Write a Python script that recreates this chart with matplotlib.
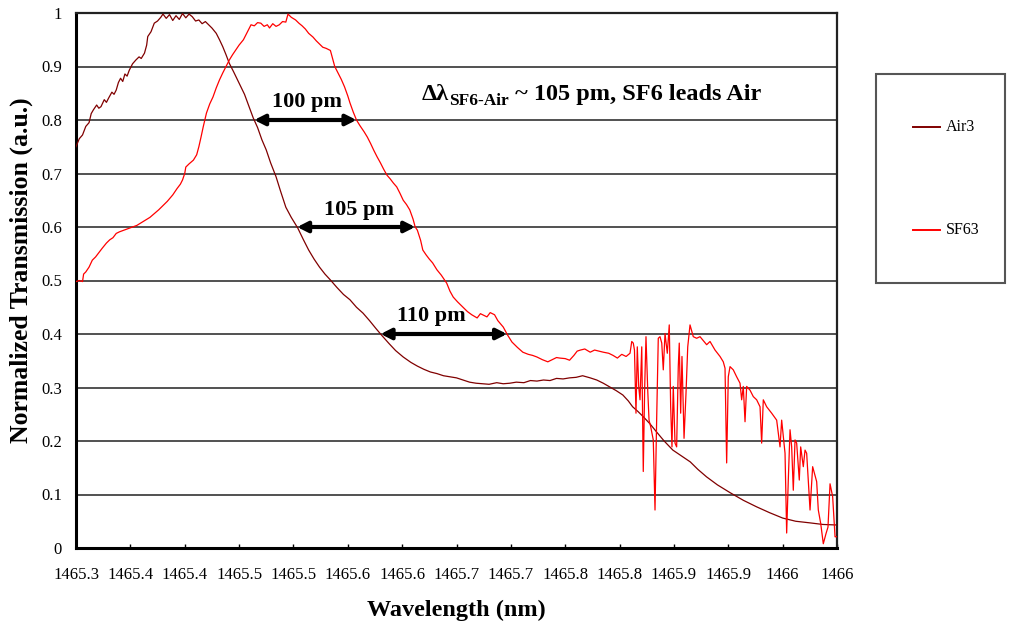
import numpy as np
import matplotlib
matplotlib.use("Agg")
import matplotlib.pyplot as plt
from matplotlib.patches import Rectangle
from matplotlib.lines import Line2D

# ---------------- data ----------------
air3_wl = [
    1465.300, 1465.303, 1465.306, 1465.309, 1465.312, 1465.314, 1465.316, 1465.319,
    1465.321, 1465.323, 1465.326, 1465.328, 1465.330, 1465.333, 1465.335, 1465.337,
    1465.339, 1465.341, 1465.343, 1465.345, 1465.347, 1465.349, 1465.352, 1465.355,
    1465.358, 1465.360, 1465.363, 1465.365, 1465.366, 1465.369, 1465.372, 1465.375,
    1465.378, 1465.380, 1465.383, 1465.386, 1465.389, 1465.392, 1465.395, 1465.398,
    1465.401, 1465.404, 1465.407, 1465.410, 1465.413, 1465.416, 1465.419, 1465.422,
    1465.425, 1465.429, 1465.432, 1465.435, 1465.438, 1465.441, 1465.445, 1465.450,
    1465.455, 1465.459, 1465.463, 1465.467, 1465.471, 1465.475, 1465.479, 1465.484,
    1465.488, 1465.493, 1465.498, 1465.504, 1465.509, 1465.514, 1465.519, 1465.524,
    1465.529, 1465.534, 1465.540, 1465.546, 1465.552, 1465.558, 1465.564, 1465.570,
    1465.576, 1465.581, 1465.588, 1465.594, 1465.601, 1465.608, 1465.614, 1465.620,
    1465.626, 1465.632, 1465.638, 1465.644, 1465.650, 1465.656, 1465.662, 1465.668,
    1465.674, 1465.680, 1465.687, 1465.693, 1465.699, 1465.705, 1465.712, 1465.718,
    1465.724, 1465.730, 1465.736, 1465.742, 1465.748, 1465.754, 1465.760, 1465.766,
    1465.773, 1465.779, 1465.785, 1465.791, 1465.797, 1465.803, 1465.808, 1465.812,
    1465.817, 1465.822, 1465.828, 1465.834, 1465.841, 1465.849, 1465.857, 1465.865,
    1465.872, 1465.880, 1465.890, 1465.902, 1465.914, 1465.926, 1465.938, 1465.950,
    1465.962, 1465.975, 1465.987, 1466.000,
]
air3_tr = [
    0.750, 0.765, 0.772, 0.788, 0.795, 0.812, 0.819, 0.828,
    0.822, 0.825, 0.838, 0.833, 0.841, 0.852, 0.848, 0.856,
    0.870, 0.878, 0.872, 0.886, 0.882, 0.893, 0.905, 0.912,
    0.918, 0.915, 0.925, 0.940, 0.956, 0.965, 0.981, 0.985,
    0.992, 0.998, 0.990, 0.997, 0.986, 0.995, 0.988, 0.999,
    0.991, 0.998, 0.993, 0.985, 0.987, 0.980, 0.984, 0.978,
    0.972, 0.962, 0.950, 0.937, 0.922, 0.906, 0.890, 0.869,
    0.848, 0.826, 0.804, 0.786, 0.763, 0.744, 0.720, 0.694,
    0.668, 0.637, 0.618, 0.598, 0.577, 0.557, 0.540, 0.525,
    0.512, 0.501, 0.487, 0.474, 0.464, 0.450, 0.439, 0.425,
    0.410, 0.398, 0.382, 0.369, 0.357, 0.347, 0.340, 0.334,
    0.329, 0.326, 0.322, 0.320, 0.318, 0.314, 0.310, 0.308,
    0.307, 0.306, 0.309, 0.307, 0.308, 0.310, 0.309, 0.313,
    0.312, 0.314, 0.313, 0.317, 0.316, 0.318, 0.319, 0.322,
    0.318, 0.314, 0.308, 0.301, 0.294, 0.286, 0.275, 0.264,
    0.255, 0.245, 0.232, 0.217, 0.200, 0.183, 0.172, 0.161,
    0.147, 0.133, 0.118, 0.103, 0.089, 0.077, 0.066, 0.056,
    0.050, 0.047, 0.044, 0.043,
]

sf63_wl = [
    1465.300, 1465.303, 1465.306, 1465.307, 1465.309, 1465.312, 1465.315, 1465.318,
    1465.321, 1465.324, 1465.328, 1465.331, 1465.334, 1465.337, 1465.340, 1465.344,
    1465.348, 1465.352, 1465.356, 1465.360, 1465.364, 1465.368, 1465.372, 1465.376,
    1465.380, 1465.384, 1465.389, 1465.393, 1465.396, 1465.398, 1465.400, 1465.401,
    1465.404, 1465.408, 1465.411, 1465.413, 1465.415, 1465.417, 1465.420, 1465.423,
    1465.426, 1465.429, 1465.432, 1465.435, 1465.438, 1465.441, 1465.444, 1465.447,
    1465.450, 1465.454, 1465.457, 1465.461, 1465.464, 1465.467, 1465.470, 1465.473,
    1465.476, 1465.478, 1465.481, 1465.484, 1465.487, 1465.490, 1465.493, 1465.495,
    1465.498, 1465.502, 1465.505, 1465.508, 1465.511, 1465.514, 1465.518, 1465.521,
    1465.524, 1465.527, 1465.530, 1465.534, 1465.536, 1465.538, 1465.541, 1465.544,
    1465.547, 1465.550, 1465.552, 1465.555, 1465.558, 1465.561, 1465.565, 1465.568,
    1465.571, 1465.574, 1465.577, 1465.580, 1465.583, 1465.586, 1465.589, 1465.592,
    1465.595, 1465.598, 1465.601, 1465.604, 1465.607, 1465.610, 1465.612, 1465.614,
    1465.617, 1465.619, 1465.622, 1465.625, 1465.628, 1465.632, 1465.636, 1465.641,
    1465.644, 1465.647, 1465.651, 1465.656, 1465.660, 1465.664, 1465.669, 1465.672,
    1465.674, 1465.678, 1465.681, 1465.685, 1465.688, 1465.693, 1465.697, 1465.701,
    1465.706, 1465.711, 1465.716, 1465.720, 1465.724, 1465.729, 1465.734, 1465.738,
    1465.742, 1465.745, 1465.750, 1465.754, 1465.758, 1465.761, 1465.764, 1465.768,
    1465.773, 1465.777, 1465.781, 1465.785, 1465.790, 1465.794, 1465.798, 1465.802,
    1465.806,
    # absorption band
    1465.8096, 1465.8112, 1465.8126, 1465.8137, 1465.8151, 1465.8163, 1465.8176, 1465.8188,
    1465.8204, 1465.8218, 1465.8231, 1465.8243, 1465.8259, 1465.8271, 1465.8286, 1465.8298,
    1465.8310, 1465.8326, 1465.8341, 1465.8356, 1465.8372, 1465.8388, 1465.8402, 1465.8418,
    1465.8439, 1465.8457, 1465.8470, 1465.8482, 1465.8494, 1465.8510, 1465.8525, 1465.8540,
    1465.8549, 1465.8562, 1465.8574, 1465.8593, 1465.8611, 1465.8627, 1465.8648,
    # long-wavelength tail
    1465.8678, 1465.8709, 1465.8740, 1465.8801, 1465.8832,
    1465.8878, 1465.8924, 1465.8954, 1465.8970, 1465.8985, 1465.9000, 1465.9016, 1465.9046,
    1465.9077, 1465.9108, 1465.9123, 1465.9138, 1465.9154, 1465.9169, 1465.9200, 1465.9230,
    1465.9261, 1465.9292, 1465.9307, 1465.9322, 1465.9353, 1465.9399, 1465.9445, 1465.9476,
    1465.9491, 1465.9522, 1465.9537, 1465.9552, 1465.9568, 1465.9583, 1465.9598, 1465.9614,
    1465.9629, 1465.9653, 1465.9666, 1465.9690, 1465.9706, 1465.9721, 1465.9752, 1465.9776,
    1465.9813, 1465.9828, 1465.9850, 1465.9874, 1465.9899, 1465.9917, 1465.9936, 1465.9960,
    1465.9982, 1465.9997,
]
sf63_tr = [
    0.498, 0.500, 0.498, 0.512, 0.516, 0.525, 0.538, 0.544,
    0.552, 0.560, 0.570, 0.576, 0.580, 0.588, 0.591, 0.594,
    0.597, 0.600, 0.603, 0.608, 0.613, 0.618, 0.625, 0.632,
    0.640, 0.648, 0.660, 0.672, 0.680, 0.688, 0.700, 0.712,
    0.718, 0.725, 0.735, 0.750, 0.768, 0.787, 0.813, 0.830,
    0.843, 0.860, 0.875, 0.888, 0.900, 0.912, 0.922, 0.931,
    0.940, 0.950, 0.962, 0.978, 0.976, 0.982, 0.981, 0.975,
    0.978, 0.972, 0.980, 0.975, 0.978, 0.984, 0.983, 0.998,
    0.992, 0.987, 0.981, 0.976, 0.970, 0.962, 0.955, 0.948,
    0.942, 0.936, 0.934, 0.930, 0.915, 0.900, 0.888, 0.876,
    0.862, 0.845, 0.832, 0.815, 0.800, 0.790, 0.778, 0.768,
    0.756, 0.743, 0.731, 0.720, 0.708, 0.697, 0.690, 0.682,
    0.675, 0.663, 0.650, 0.642, 0.632, 0.615, 0.600, 0.594,
    0.575, 0.557, 0.548, 0.540, 0.533, 0.520, 0.510, 0.495,
    0.480, 0.469, 0.460, 0.450, 0.442, 0.436, 0.430, 0.438,
    0.436, 0.432, 0.440, 0.436, 0.425, 0.413, 0.398, 0.385,
    0.375, 0.366, 0.362, 0.360, 0.357, 0.352, 0.348, 0.352,
    0.356, 0.355, 0.354, 0.351, 0.360, 0.368, 0.370, 0.372,
    0.366, 0.370, 0.368, 0.366, 0.364, 0.360, 0.355, 0.362,
    0.358,
    # absorption band
    0.364, 0.386, 0.383, 0.370, 0.252, 0.376, 0.302, 0.277,
    0.376, 0.143, 0.300, 0.395, 0.295, 0.239, 0.227, 0.214,
    0.202, 0.071, 0.239, 0.392, 0.395, 0.383, 0.333, 0.401,
    0.364, 0.417, 0.264, 0.189, 0.302, 0.196, 0.189, 0.339,
    0.383, 0.252, 0.358, 0.205, 0.289, 0.376, 0.417,
    # long-wavelength tail
    0.395, 0.392, 0.395, 0.380, 0.386,
    0.370, 0.358, 0.348, 0.336, 0.159, 0.320, 0.339, 0.333,
    0.320, 0.308, 0.277, 0.302, 0.236, 0.302, 0.295, 0.283,
    0.277, 0.264, 0.196, 0.277, 0.264, 0.252, 0.239, 0.189,
    0.239, 0.177, 0.028, 0.127, 0.221, 0.189, 0.108, 0.202,
    0.196, 0.127, 0.189, 0.152, 0.183, 0.177, 0.071, 0.152,
    0.124, 0.071, 0.046, 0.008, 0.027, 0.039, 0.120, 0.096,
    0.021, 0.021,
]

series_names = ["Air3", "SF63"]
series_colors = ["#800000", "#ff0000"]

x_tick_values = [1465.30, 1465.35, 1465.40, 1465.45, 1465.50, 1465.55, 1465.60, 1465.65,
                 1465.70, 1465.75, 1465.80, 1465.85, 1465.90, 1465.95, 1466.00]
x_tick_labels = ["1465.3", "1465.4", "1465.4", "1465.5", "1465.5", "1465.6", "1465.6",
                 "1465.7", "1465.7", "1465.8", "1465.8", "1465.9", "1465.9", "1466", "1466"]
y_tick_values = [0.0, 0.1, 0.2, 0.3, 0.4, 0.5, 0.6, 0.7, 0.8, 0.9, 1.0]
y_tick_labels = ["0", "0.1", "0.2", "0.3", "0.4", "0.5", "0.6", "0.7", "0.8", "0.9", "1"]

shift_levels = [0.8, 0.6, 0.4]
shift_labels = ["100 pm", "105 pm", "110 pm"]
shift_label_dx = [1, 2, -9]  # points


def falling_crossing(wl, tr, level):
    """Wavelength where a curve first falls through `level` after its peak."""
    wl = np.asarray(wl)
    tr = np.asarray(tr)
    i0 = int(np.argmax(tr))
    for i in range(i0 + 1, len(tr)):
        if tr[i] <= level:
            return float(np.interp(level, [tr[i], tr[i - 1]], [wl[i], wl[i - 1]]))
    return float(wl[-1])


# ---------------- figure ----------------
W, H = 1009, 634
plt.rcParams["font.family"] = ["Liberation Serif", "DejaVu Sans"]
fig = plt.figure(figsize=(W / 100, H / 100), dpi=100)
ax = fig.add_axes([76 / W, 1 - 548 / H, (837 - 76) / W, (548 - 13) / H])

for y in y_tick_values[1:-1]:
    ax.axhline(y, color="#222222", lw=1.1, zorder=1)

for wl, tr, name, col in zip([air3_wl, sf63_wl], [air3_tr, sf63_tr], series_names, series_colors):
    ax.plot(wl, tr, color=col, lw=0.9, label=name, zorder=3)

ax.set_xlim(x_tick_values[0], x_tick_values[-1])
ax.set_ylim(0, 1)
ax.set_xticks(x_tick_values)
ax.set_xticklabels(x_tick_labels)
ax.set_yticks(y_tick_values)
ax.set_yticklabels(y_tick_labels)
ax.tick_params(axis="x", direction="in", length=3, width=1, pad=14, labelsize=12, colors="black")
ax.tick_params(axis="y", length=0, pad=10, labelsize=12)

for side in ("left", "bottom"):
    ax.spines[side].set_linewidth(2.2)
    ax.spines[side].set_color("black")
for side in ("top", "right"):
    ax.spines[side].set_linewidth(1.6)
    ax.spines[side].set_color("#222222")

ax.set_xlabel("Wavelength (nm)", fontsize=17.5, fontweight="bold")
ax.set_ylabel("Normalized Transmission (a.u.)", fontsize=18.5, fontweight="bold")
ax.xaxis.set_label_coords(0.5, -0.097)
ax.yaxis.set_label_coords(-0.056, 0.52)

# wavelength shift arrows between the two falling edges
for level, text, dx in zip(shift_levels, shift_labels, shift_label_dx):
    x_air = falling_crossing(air3_wl, air3_tr, level)
    x_sf6 = falling_crossing(sf63_wl, sf63_tr, level)
    ax.annotate("", xy=(x_sf6, level), xytext=(x_air, level),
                arrowprops=dict(arrowstyle="<|-|>,head_length=0.55,head_width=0.28",
                                lw=3, color="black", shrinkA=0, shrinkB=0,
                                mutation_scale=11),
                zorder=4)
    ax.annotate(text, xy=((x_air + x_sf6) / 2, level), xytext=(dx, 9),
                textcoords="offset points", ha="center", va="baseline",
                fontsize=16, fontweight="bold", zorder=5)

# summary note: Δλ with subscript
t1 = ax.text(0.4547, 0.837, "Δλ", transform=ax.transAxes, fontsize=17.5,
             fontweight="bold", ha="left", va="baseline")
t2 = ax.annotate("SF6-Air", xy=(1, 0), xycoords=t1, fontsize=12.5,
                 fontweight="bold", ha="left", va="baseline")
t3 = ax.annotate(" ~ 105 pm, SF6 leads Air", xy=(1, 0), xycoords=(t2, t1),
                 fontsize=17.5, fontweight="bold", ha="left", va="bottom")

# legend box
fig.add_artist(Rectangle((876 / W, 1 - 283 / H), (1005 - 876) / W, (283 - 74) / H,
                         transform=fig.transFigure, fill=False, ec="#555555", lw=1.5))
legend_rows = [127, 230]
for row, name, col in zip(legend_rows, series_names, series_colors):
    yy = 1 - row / H
    fig.add_artist(Line2D([913 / W, 940 / W], [yy, yy], color=col, lw=1.4,
                          transform=fig.transFigure))
    fig.text(946 / W, yy, name, fontsize=11.5, ha="left", va="center")

fig.savefig("out.png", dpi=100)
